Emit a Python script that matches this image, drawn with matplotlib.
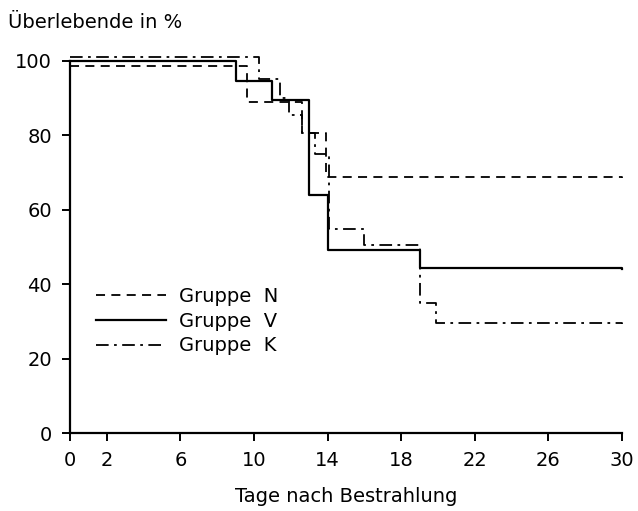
import numpy as np
import matplotlib.pyplot as plt

# Überlebenskurven (Treppenfunktionen), Tage / Prozent
tage_n = [0, 9.6, 12.6, 13.9, 30]
werte_n = [98.7, 89, 80.5, 68.8, 68.4]

tage_v = [0, 9, 11, 13, 14, 19, 30]
werte_v = [100, 94.6, 89.5, 64, 49.3, 44.3, 44]

tage_k = [0, 10.3, 11.4, 11.9, 12.6, 13.3, 14.1, 16, 19, 19.9, 30]
werte_k = [101, 95.2, 90, 85.5, 80.5, 75, 54.8, 50.5, 35, 29.5, 29.2]

x_ticks = [0, 2, 6, 10, 14, 18, 22, 26, 30]
y_ticks = [0, 20, 40, 60, 80, 100]

plt.rcParams['font.family'] = ['DejaVu Sans']

fig = plt.figure(figsize=(6.38, 5.11), dpi=100)
ax = fig.add_axes([0.1097, 0.1526, 0.865, 0.7284])

ax.step(tage_n, werte_n, where='post', color='black', lw=1.3,
        linestyle=(0, (5, 3.5)), clip_on=False, label='Gruppe  N')
ax.step(tage_v, werte_v, where='post', color='black', lw=1.6,
        linestyle='-', clip_on=False, label='Gruppe  V')
ax.step(tage_k, werte_k, where='post', color='black', lw=1.3,
        linestyle=(0, (7, 3, 1.5, 3)), clip_on=False, label='Gruppe  K')

ax.set_xlim(0, 30)
ax.set_ylim(0, 100)
ax.set_xticks(x_ticks)
ax.set_yticks(y_ticks)
ax.spines['top'].set_visible(False)
ax.spines['right'].set_visible(False)
ax.spines['left'].set_linewidth(1.6)
ax.spines['bottom'].set_linewidth(1.6)
ax.tick_params(direction='out', length=6, width=1.4, labelsize=14, pad=7)

ax.set_xlabel('Tage nach Bestrahlung', fontsize=14, labelpad=12)
fig.text(0.012, 0.955, 'Überlebende in %', fontsize=14, ha='left', va='center')

ax.legend(loc='upper left', bbox_to_anchor=(0.015, 0.44), frameon=False,
          fontsize=14, handlelength=3.6, handletextpad=0.7, labelspacing=0.3)

plt.savefig('out.png')
